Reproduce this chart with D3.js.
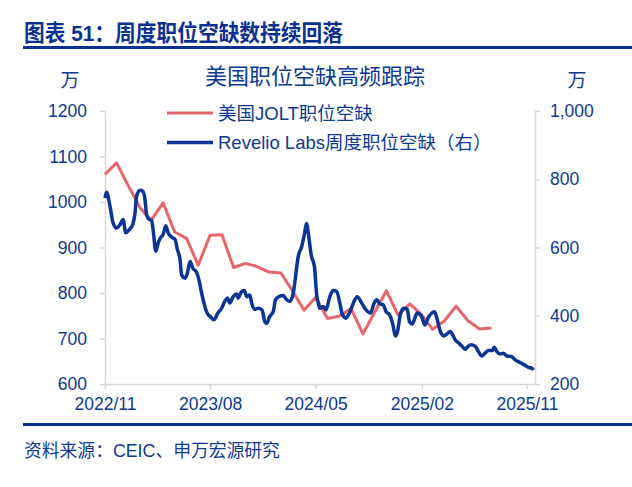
<!DOCTYPE html>
<html>
<head>
<meta charset="utf-8">
<script src="https://cdn.jsdelivr.net/npm/d3@7"></script>
<style>
  body { margin: 0; background: #fff; }
  text { font-family: 'Liberation Sans', 'Noto Sans CJK SC', sans-serif; }
</style>
</head>
<body>
<svg id="chart" width="632" height="487"></svg>
<script>

// JOLTS monthly openings (left axis, 万)
var jolt_months = ['2022-11','2022-12','2023-01','2023-02','2023-03','2023-04','2023-05','2023-06',
                   '2023-07','2023-08','2023-09','2023-10','2023-11','2023-12','2024-01','2024-02',
                   '2024-03','2024-04','2024-05','2024-06','2024-07','2024-08','2024-09','2024-10',
                   '2024-11','2024-12','2025-01','2025-02','2025-03','2025-04','2025-05','2025-06',
                   '2025-07','2025-08'];
var jolt_values = [1061, 1086, 1035, 986, 960, 998, 934, 920,
                   861, 927, 928, 856, 865, 858, 846, 844,
                   806, 762, 790, 744, 749, 766, 710, 757,
                   805, 752, 776, 752, 720, 739, 771, 739,
                   721, 723];

// Revelio Labs weekly openings (right axis, 万)
var revelio_dates = ['2022-11-01','2022-11-05','2022-11-14','2022-11-22','2022-12-01','2022-12-10','2022-12-18','2022-12-25',
                     '2023-01-03','2023-01-12','2023-01-18','2023-01-22','2023-01-31','2023-02-07','2023-02-13','2023-02-17',
                     '2023-02-24','2023-03-02','2023-03-06','2023-03-13','2023-03-19','2023-03-25','2023-04-01','2023-04-08',
                     '2023-04-14','2023-04-23','2023-05-02','2023-05-08','2023-05-15','2023-05-19','2023-05-28','2023-06-03',
                     '2023-06-10','2023-06-17','2023-06-27','2023-07-04','2023-07-10','2023-07-14','2023-07-21','2023-07-27',
                     '2023-08-01','2023-08-11','2023-08-21','2023-08-31','2023-09-08','2023-09-15','2023-09-21','2023-09-30',
                     '2023-10-09','2023-10-13','2023-10-22','2023-10-29','2023-11-04','2023-11-12','2023-11-17','2023-11-24',
                     '2023-12-04','2023-12-14','2023-12-21','2023-12-26','2024-01-03','2024-01-12','2024-01-18','2024-01-27',
                     '2024-02-07','2024-02-16','2024-02-24','2024-03-04','2024-03-10','2024-03-17','2024-03-26','2024-04-01',
                     '2024-04-08','2024-04-12','2024-04-20','2024-04-28','2024-05-04','2024-05-08','2024-05-12','2024-05-21',
                     '2024-05-28','2024-06-06','2024-06-15','2024-06-25','2024-07-03','2024-07-10','2024-07-19','2024-07-28',
                     '2024-08-07','2024-08-17','2024-08-29','2024-09-09','2024-09-21','2024-09-30','2024-10-07','2024-10-15',
                     '2024-10-24','2024-10-31','2024-11-09','2024-11-18','2024-11-24','2024-11-30','2024-12-07','2024-12-16',
                     '2024-12-25','2024-12-31','2025-01-07','2025-01-13','2025-01-20','2025-01-31','2025-02-09','2025-02-17',
                     '2025-02-27','2025-03-06','2025-03-12','2025-03-21','2025-03-30','2025-04-10','2025-04-16','2025-04-22',
                     '2025-04-29','2025-05-08','2025-05-17','2025-05-25','2025-06-01','2025-06-09','2025-06-20','2025-06-28',
                     '2025-07-07','2025-07-15','2025-07-24','2025-08-03','2025-08-08','2025-08-15','2025-08-23','2025-09-01',
                     '2025-09-10','2025-09-23','2025-10-01','2025-10-14','2025-10-25','2025-11-05','2025-11-14','2025-11-18'];
var revelio_values = [745, 762, 721, 672, 657, 667, 682, 643,
                      652, 667, 701, 750, 768, 765, 740, 696,
                      682, 680, 652, 589, 613, 628, 638, 664,
                      643, 631, 623, 594, 564, 520, 510, 525,
                      559, 540, 527, 501, 466, 447, 417, 403,
                      398, 388, 408, 422, 442, 452, 437, 456,
                      464, 452, 471, 474, 456, 461, 437, 419,
                      422, 417, 383, 378, 398, 412, 447, 456,
                      459, 447, 442, 466, 515, 574, 603, 633,
                      670, 643, 576, 545, 460, 437, 422, 427,
                      417, 452, 474, 471, 437, 403, 393, 408,
                      437, 456, 437, 417, 408, 437, 447, 435,
                      432, 412, 403, 373, 341, 354, 403, 422,
                      419, 383, 376, 390, 408, 398, 373, 393,
                      408, 412, 393, 354, 341, 349, 354, 344,
                      329, 320, 310, 302, 310, 315, 310, 295,
                      282, 290, 298, 298, 308, 295, 288, 290,
                      282, 280, 271, 263, 256, 249, 246, 241];

var left_ticks = [600, 700, 800, 900, 1000, 1100, 1200];
var right_ticks = [200, 400, 600, 800, 1000];
var x_ticks = ['2022-11', '2023-08', '2024-05', '2025-02', '2025-11'];

var series_names = ['美国JOLT职位空缺', 'Revelio Labs周度职位空缺（右）'];

var text_blue = '#0d3a92';
var navy = '#0a3191';
var red = '#e8666b';
var line_blue = '#0a3594';
var axis_grey = '#d9d9d9';

var svg = d3.select('#chart');
var parseMonth = d3.timeParse('%Y-%m');
var parseDay = d3.timeParse('%Y-%m-%d');

// header + footer
svg.append('text')
   .attr('x', 24)
   .attr('y', 41)
   .attr('fill', navy)
   .attr('font-size', 22.5)
   .attr('font-weight', 'bold')
   .attr('textLength', 319)
   .attr('lengthAdjust', 'spacingAndGlyphs')
   .text('图表 51：周度职位空缺数持续回落');

svg.append('rect').attr('x', 23).attr('y', 46).attr('width', 609).attr('height', 3).attr('fill', navy);
svg.append('rect').attr('x', 23).attr('y', 423).attr('width', 609).attr('height', 3).attr('fill', navy);

svg.append('text')
   .attr('x', 24)
   .attr('y', 457)
   .attr('fill', text_blue)
   .attr('font-size', 17.8)
   .text('资料来源：CEIC、申万宏源研究');

// plot
var plot = {left: 105, right: 535, top: 111, bottom: 384};

var x = d3.scaleTime()
          .domain([parseDay('2022-11-01'), parseDay('2025-11-22')])
          .range([plot.left, plot.right]);
var y_left = d3.scaleLinear().domain([600, 1200]).range([plot.bottom, plot.top]);
var y_right = d3.scaleLinear().domain([200, 1000]).range([plot.bottom, plot.top]);

svg.append('text')
   .attr('x', 315)
   .attr('y', 84)
   .attr('text-anchor', 'middle')
   .attr('fill', text_blue)
   .attr('font-size', 22)
   .text('美国职位空缺高频跟踪');

svg.append('text').attr('x', 70).attr('y', 87).attr('text-anchor', 'middle')
   .attr('fill', text_blue).attr('font-size', 19).text('万');
svg.append('text').attr('x', 577).attr('y', 87).attr('text-anchor', 'middle')
   .attr('fill', text_blue).attr('font-size', 19).text('万');

var style_axis = g => {
  g.selectAll('path').attr('stroke', axis_grey).attr('stroke-width', 1.5);
  g.selectAll('line').attr('stroke', axis_grey).attr('stroke-width', 1.5);
  g.selectAll('text')
   .attr('fill', text_blue)
   .attr('font-size', 17.5)
   .attr('font-family', "'Liberation Sans', sans-serif");
};

svg.append('g')
   .attr('transform', 'translate(' + plot.left + ',0)')
   .call(d3.axisLeft(y_left).tickValues(left_ticks).tickSize(5).tickSizeOuter(0).tickPadding(13).tickFormat(d3.format('d')))
   .call(style_axis);

svg.append('g')
   .attr('transform', 'translate(' + plot.right + ',0)')
   .call(d3.axisRight(y_right).tickValues(right_ticks).tickSize(5).tickSizeOuter(0).tickPadding(10).tickFormat(d3.format(',')))
   .call(style_axis);

svg.append('g')
   .attr('transform', 'translate(0,' + plot.bottom + ')')
   .call(d3.axisBottom(x).tickValues(x_ticks.map(parseMonth)).tickSize(5).tickSizeOuter(0).tickPadding(9).tickFormat(d3.timeFormat('%Y/%m')))
   .call(style_axis);

// lines
var jolt_data = jolt_months.map((m, i) => ({t: parseMonth(m), v: jolt_values[i]}));
var revelio_data = revelio_dates.map((d, i) => ({t: parseDay(d), v: revelio_values[i]}));

svg.append('path')
   .datum(jolt_data)
   .attr('fill', 'none')
   .attr('stroke', red)
   .attr('stroke-width', 3)
   .attr('stroke-linejoin', 'round')
   .attr('d', d3.line().x(d => x(d.t)).y(d => y_left(d.v)));

svg.append('path')
   .datum(revelio_data)
   .attr('fill', 'none')
   .attr('stroke', line_blue)
   .attr('stroke-width', 3.5)
   .attr('stroke-linejoin', 'round')
   .attr('d', d3.line().curve(d3.curveMonotoneX).x(d => x(d.t)).y(d => y_right(d.v)));

// legend
var legend = svg.append('g');
[red, line_blue].forEach((c, i) => {
  legend.append('line')
        .attr('x1', 167).attr('x2', 213)
        .attr('y1', 113 + i * 29.5).attr('y2', 113 + i * 29.5)
        .attr('stroke', c)
        .attr('stroke-width', i == 0 ? 3 : 3.5);
  legend.append('text')
        .attr('x', 218)
        .attr('y', 113 + i * 29.5)
        .attr('dy', '0.36em')
        .attr('fill', text_blue)
        .attr('font-size', 18.5)
        .text(series_names[i]);
});

</script>
</body>
</html>
